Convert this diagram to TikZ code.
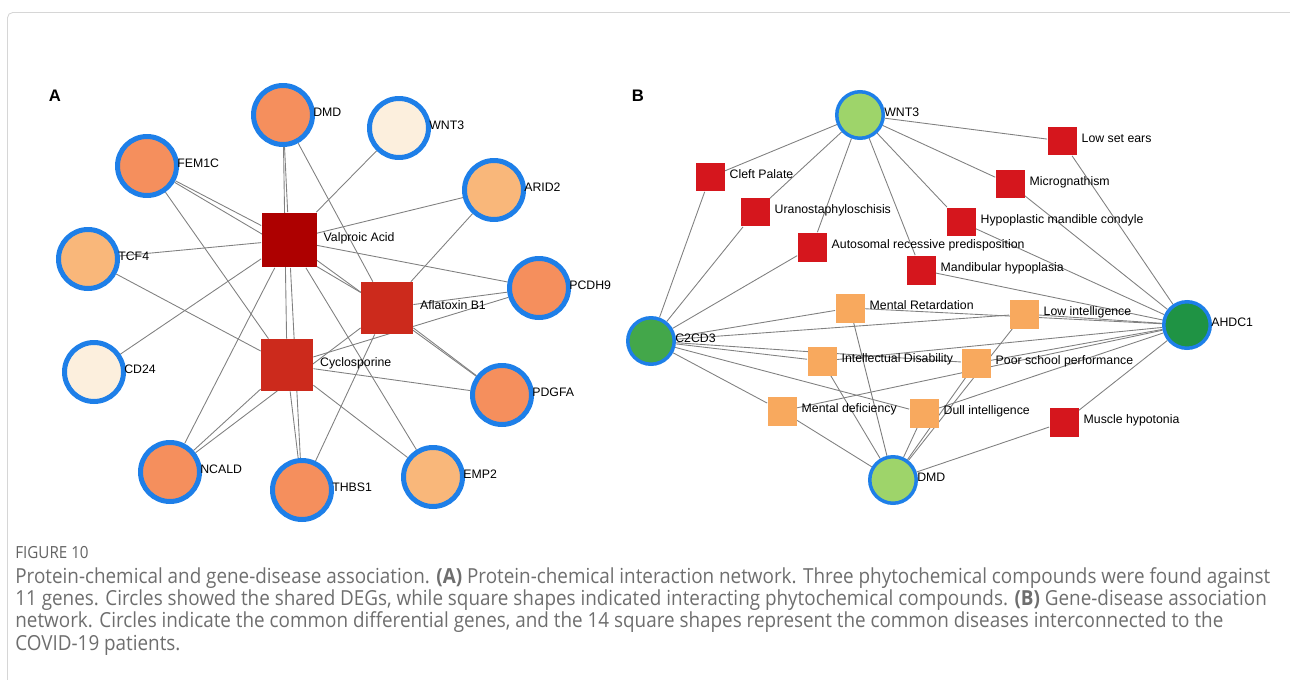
\documentclass[tikz,border=0pt]{standalone}
\usepackage{fontspec}
\setmainfont{Liberation Sans}
\newfontfamily\capfont[FakeStretch=0.91]{Open Sans}
\usepackage{xcolor}
\usetikzlibrary{positioning, shapes.geometric, backgrounds}
\definecolor{ringblue}{HTML}{1E7FE8}
\definecolor{salmon}{HTML}{F58F5D}
\definecolor{paleorange}{HTML}{F9B77A}
\definecolor{cream}{HTML}{FCEFDD}
\definecolor{valpred}{HTML}{AD0000}
\definecolor{chemred}{HTML}{CC2A1C}
\definecolor{disred}{HTML}{D5161D}
\definecolor{disorange}{HTML}{F8A95E}
\definecolor{lightgreen}{HTML}{9ED46A}
\definecolor{midgreen}{HTML}{43A74A}
\definecolor{darkgreen}{HTML}{1F9344}
\definecolor{edgegray}{HTML}{808080}
\definecolor{capgray}{HTML}{6E6E6E}
\definecolor{framegray}{HTML}{D6D6D6}
\tikzset{
gene A/.style = { circle, draw = ringblue, line width = 0.1cm, minimum size = 1.18cm, inner sep = 0pt },
gene B/.style = { circle, draw = ringblue, line width = 0.07cm, minimum size = 0.93cm, inner sep = 0pt },
chem/.style = { rectangle, draw = none, fill = chemred, minimum size = 1.04cm, inner sep = 0pt },
disease/.style = { rectangle, draw = none, minimum size = 0.58cm, inner sep = 0pt },
lbl/.style = { font = \fontsize{7}{8}\selectfont, inner sep = 0pt, text height = 1.6ex, text depth = 0.4ex, yshift = 0.08cm },
panel/.style = { font = \fontsize{9.5}{11}\selectfont\bfseries, inner sep = 0pt },
}
\begin{document}
\begin{tikzpicture}[x=0.02cm, y=-0.02cm]
      \useasboundingbox (0,0) rectangle (1290,679);
      \draw[framegray, line width=0.5pt, rounded corners=3pt] (7.5,690) -- (7.5,12.5) -- (1300,12.5);
      % panel A
      \node[panel] (letA) at (55,96) {A};
      \begin{scope}[every label/.style={lbl, label distance=-0.04cm}]
        \node[gene A, fill=salmon, label=right:DMD] (dmdA) at (283,115) {};
        \node[gene A, fill=cream, label=right:WNT3] (wntA) at (399,128) {};
        \node[gene A, fill=salmon, label=right:FEM1C] (fem) at (147,166) {};
        \node[gene A, fill=paleorange, label=right:ARID2] (arid) at (494,190) {};
        \node[gene A, fill=paleorange, label=right:TCF4] (tcf) at (88,259) {};
        \node[gene A, fill=salmon, label=right:PCDH9] (pcdh) at (539,288) {};
        \node[gene A, fill=cream, label=right:CD24] (cdtf) at (94,372) {};
        \node[gene A, fill=salmon, label=right:PDGFA] (pdgfa) at (502,395) {};
        \node[gene A, fill=salmon, label=right:NCALD] (ncald) at (170,472) {};
        \node[gene A, fill=salmon, label=right:THBS1] (thbs) at (302,490) {};
        \node[gene A, fill=paleorange, label=right:EMP2] (emp) at (433,477) {};
      \end{scope}
      \begin{scope}[every label/.style={lbl, label distance=0.13cm}]
        \node[chem, fill=valpred, minimum size=1.1cm, label=right:Valproic Acid] (valp) at (289,240) {};
        \node[chem, label=right:Aflatoxin B1] (afla) at (387,308) {};
        \node[chem, label=right:Cyclosporine] (cyclo) at (287,365) {};
      \end{scope}
      \begin{scope}[on background layer, every edge/.style={draw=edgegray, line width=0.5pt}]
        \path [-] (valp) edge (dmdA) edge (wntA) edge (arid) edge (pcdh) edge (pdgfa) edge (emp)
                         edge (thbs) edge (ncald) edge (cdtf) edge (tcf) edge (fem);
        \path [-] (afla) edge (dmdA) edge (arid) edge (pcdh) edge (pdgfa) edge (thbs)
                         edge (ncald) edge (fem);
        \path [-] (cyclo) edge (dmdA) edge (pcdh) edge (pdgfa) edge (emp) edge (thbs)
                          edge (ncald) edge (tcf) edge (fem);
      \end{scope}
      % panel B
      \node[panel] (letB) at (638,96) {B};
      \begin{scope}[every label/.style={lbl, label distance=-0.02cm}]
        \node[gene B, fill=lightgreen, label=right:WNT3] (wntB) at (860,115) {};
        \node[gene B, fill=midgreen, label=right:C2CD3] (cdthree) at (651,341) {};
        \node[gene B, fill=darkgreen, label=right:AHDC1] (ahdc) at (1187,325) {};
        \node[gene B, fill=lightgreen, label=right:DMD] (dmdB) at (893,480) {};
      \end{scope}
      \begin{scope}[every label/.style={lbl, label distance=0.09cm}]
        \node[disease, fill=disred, label=right:Cleft Palate] (cleft) at (710,177) {};
        \node[disease, fill=disred, label=right:Uranostaphyloschisis] (urano) at (755,212) {};
        \node[disease, fill=disred, label=right:Autosomal recessive predisposition] (auto) at (812,247) {};
        \node[disease, fill=disred, label=right:Mandibular hypoplasia] (mandib) at (921,270) {};
        \node[disease, fill=disred, label=right:Low set ears] (ears) at (1062,141) {};
        \node[disease, fill=disred, label=right:Micrognathism] (micro) at (1010,184) {};
        \node[disease, fill=disred, label=right:Hypoplastic mandible condyle] (hypo) at (961,222) {};
        \node[disease, fill=disred, label=right:Muscle hypotonia] (hypot) at (1064,422) {};
        \node[disease, fill=disorange, label=right:Mental Retardation] (retard) at (850,308) {};
        \node[disease, fill=disorange, label=right:Intellectual Disability] (intel) at (822,361) {};
        \node[disease, fill=disorange, label=right:Mental deficiency] (deficiency) at (782,411) {};
        \node[disease, fill=disorange, label=right:Dull intelligence] (dull) at (924,413) {};
        \node[disease, fill=disorange, label=right:Low intelligence] (lowint) at (1024,314) {};
        \node[disease, fill=disorange, label=right:Poor school performance] (school) at (976,363) {};
      \end{scope}
      \begin{scope}[on background layer, every edge/.style={draw=edgegray, line width=0.5pt}]
        \path [-] (wntB) edge (cleft) edge (urano) edge (auto) edge (mandib) edge (hypo)
                         edge (micro) edge (ears);
        \path [-] (cdthree) edge (cleft) edge (urano) edge (auto) edge (retard) edge (intel)
                            edge (deficiency) edge (dull) edge (lowint) edge (school);
        \path [-] (ahdc) edge (mandib) edge (hypo) edge (micro) edge (ears) edge (hypot)
                         edge (retard) edge (intel) edge (deficiency) edge (dull) edge (lowint) edge (school);
        \path [-] (dmdB) edge (hypot) edge (retard) edge (intel) edge (deficiency) edge (dull)
                         edge (lowint) edge (school);
      \end{scope}
      % caption
      \node[anchor=base west, inner sep=0pt, text=capgray!90!black, font=\capfont\fontsize{9.5}{11}\selectfont] (fig) at (15,558) {FIGURE 10};
      \node[anchor=base west, inner sep=0pt, align=left, text=capgray, font=\capfont\fontsize{11.8}{12.7}\selectfont] (cap) at (15,650)
        {Protein-chemical and gene-disease association. \textbf{(A)} Protein-chemical interaction network. Three phytochemical compounds were found against\\
         11 genes. Circles showed the shared DEGs, while square shapes indicated interacting phytochemical compounds. \textbf{(B)} Gene-disease association\\
         network. Circles indicate the common differential genes, and the 14 square shapes represent the common diseases interconnected to the\\
         COVID-19 patients.};
    \end{tikzpicture}
\end{document}
